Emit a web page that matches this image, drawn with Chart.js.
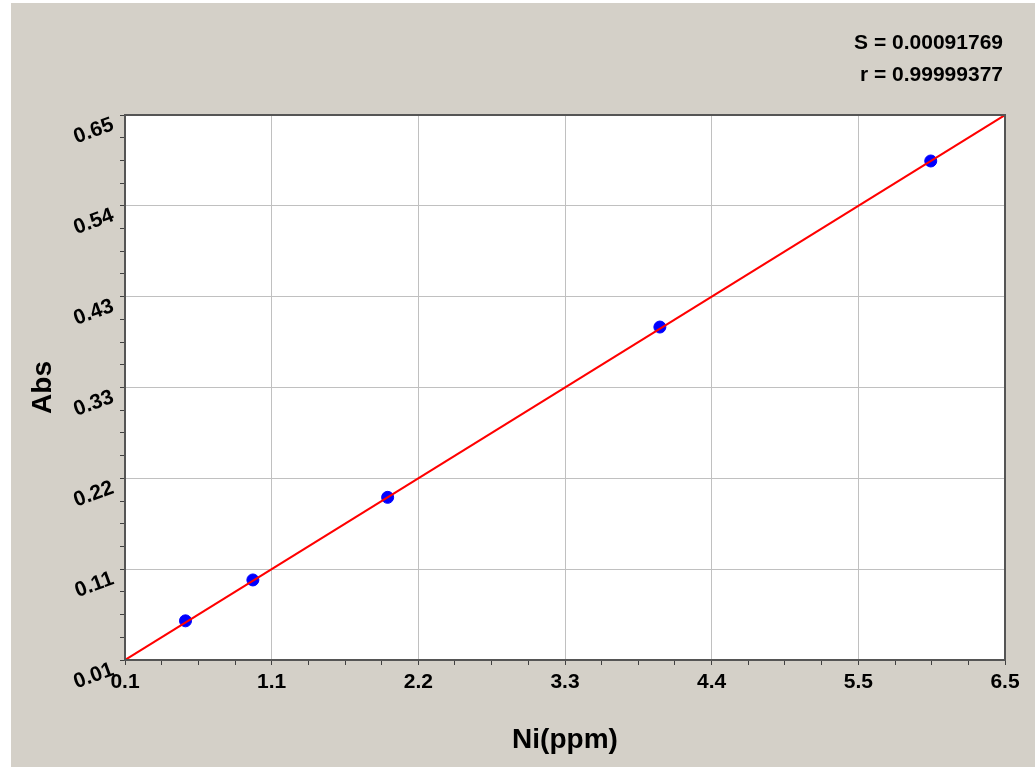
<!DOCTYPE html>
<html>
<head>
<meta charset="utf-8">
<script src="https://cdn.jsdelivr.net/npm/chart.js@4"></script>
<style>
  html, body { margin: 0; padding: 0; background: #ffffff; }
  #wrap { position: absolute; left: 11px; top: 3px; width: 1024px; height: 764px; }
</style>
</head>
<body>
<div id="wrap"><canvas id="calChart" width="1024" height="764"></canvas></div>
<script>
// calibration data
const concX = [0.54, 1.03, 2.01, 3.99, 5.96];
const absY = [0.056, 0.104, 0.201, 0.401, 0.596];

// fitted line ends
const fitX = [0.1, 6.5];
const fitY = [0.01, 0.65];

const xTickLabels = ["0.1", "1.1", "2.2", "3.3", "4.4", "5.5", "6.5"];
const yTickLabels = ["0.01", "0.11", "0.22", "0.33", "0.43", "0.54", "0.65"];
const statLines = ["S = 0.00091769", "r = 0.99999377"];

const X_MIN = 0.1, X_MAX = 6.5, Y_MIN = 0.01, Y_MAX = 0.65;
const FONT = "'Liberation Sans', Arial, sans-serif";

// major ticks + 3 minor between each
function buildTicks(min, max, majors) {
    const n = (majors - 1) * 4;
    const out = [];
    for (let i = 0; i <= n; i++) out.push({ value: min + (max - min) * i / n, major: i % 4 === 0 });
    return out;
}

const framePlugin = {
    id: "frame",
    beforeDraw(chart) {
        const { ctx, chartArea: a } = chart;
        ctx.save();
        ctx.fillStyle = "#d4d0c8";
        ctx.fillRect(0, 0, chart.width, chart.height);
        ctx.fillStyle = "#ffffff";
        ctx.fillRect(a.left, a.top, a.right - a.left, a.bottom - a.top);
        ctx.restore();
    },
    afterDraw(chart) {
        const { ctx, chartArea: a } = chart;
        ctx.save();
        ctx.strokeStyle = "#555555";
        ctx.lineWidth = 2;
        ctx.strokeRect(a.left, a.top, a.right - a.left, a.bottom - a.top);

        // rotated y labels
        const ys = chart.scales.y;
        ctx.fillStyle = "#000000";
        ctx.font = "bold 21px " + FONT;
        ctx.textAlign = "right";
        ctx.textBaseline = "middle";
        yTickLabels.forEach((lab, i) => {
            const v = Y_MIN + (Y_MAX - Y_MIN) * i / (yTickLabels.length - 1);
            const py = ys.getPixelForValue(v);
            ctx.save();
            ctx.translate(a.left - 12, py + 9);
            ctx.rotate(-20 * Math.PI / 180);
            ctx.fillText(lab, 0, 0);
            ctx.restore();
        });

        // stats
        ctx.textAlign = "right";
        ctx.fillText(statLines[0], 992, 40);
        ctx.fillText(statLines[1], 992, 72);
        ctx.restore();
    }
};

new Chart(document.getElementById("calChart"), {
    type: "scatter",
    data: {
        datasets: [{
            label: "fit",
            data: fitX.map((x, i) => ({ x: x, y: fitY[i] })),
            showLine: true,
            borderColor: "#ff0000",
            borderWidth: 2,
            pointRadius: 0,
            order: 0
        }, {
            label: "standards",
            data: concX.map((x, i) => ({ x: x, y: absY[i] })),
            backgroundColor: "#0000ff",
            borderColor: "#0000ff",
            pointRadius: 6,
            order: 1
        }]
    },
    options: {
        responsive: false,
        animation: false,
        layout: { padding: { left: 0, top: 112, right: 30, bottom: 0 } },
        plugins: { legend: { display: false }, tooltip: { enabled: false } },
        scales: {
            x: {
                type: "linear",
                min: X_MIN,
                max: X_MAX,
                afterBuildTicks: s => { s.ticks = buildTicks(X_MIN, X_MAX, xTickLabels.length); },
                afterFit: s => { s.height = 107; },
                border: { display: false },
                grid: {
                    color: c => (c.tick && c.tick.major ? "#c0c0c0" : "rgba(0,0,0,0)"),
                    tickColor: "#404040",
                    tickLength: 5,
                    lineWidth: 1
                },
                ticks: {
                    autoSkip: false,
                    maxRotation: 0,
                    padding: 5,
                    color: "#000000",
                    font: { family: FONT, size: 21, weight: "bold" },
                    callback: (v, i) => (i % 4 === 0 ? xTickLabels[i / 4] : "")
                },
                title: {
                    display: true,
                    text: "Ni(ppm)",
                    color: "#000000",
                    font: { family: FONT, size: 28, weight: "bold" },
                    padding: { top: 0, bottom: 10 }
                }
            },
            y: {
                type: "linear",
                min: Y_MIN,
                max: Y_MAX,
                afterBuildTicks: s => { s.ticks = buildTicks(Y_MIN, Y_MAX, yTickLabels.length); },
                afterFit: s => { s.width = 114; },
                border: { display: false },
                grid: {
                    color: c => (c.tick && c.tick.major ? "#c0c0c0" : "rgba(0,0,0,0)"),
                    tickColor: "#404040",
                    tickLength: 5,
                    lineWidth: 1
                },
                ticks: { display: false },
                title: {
                    display: true,
                    text: "Abs",
                    color: "#000000",
                    font: { family: FONT, size: 28, weight: "bold" },
                    padding: { top: 15, bottom: 0 }
                }
            }
        }
    },
    plugins: [framePlugin]
});
</script>
</body>
</html>
